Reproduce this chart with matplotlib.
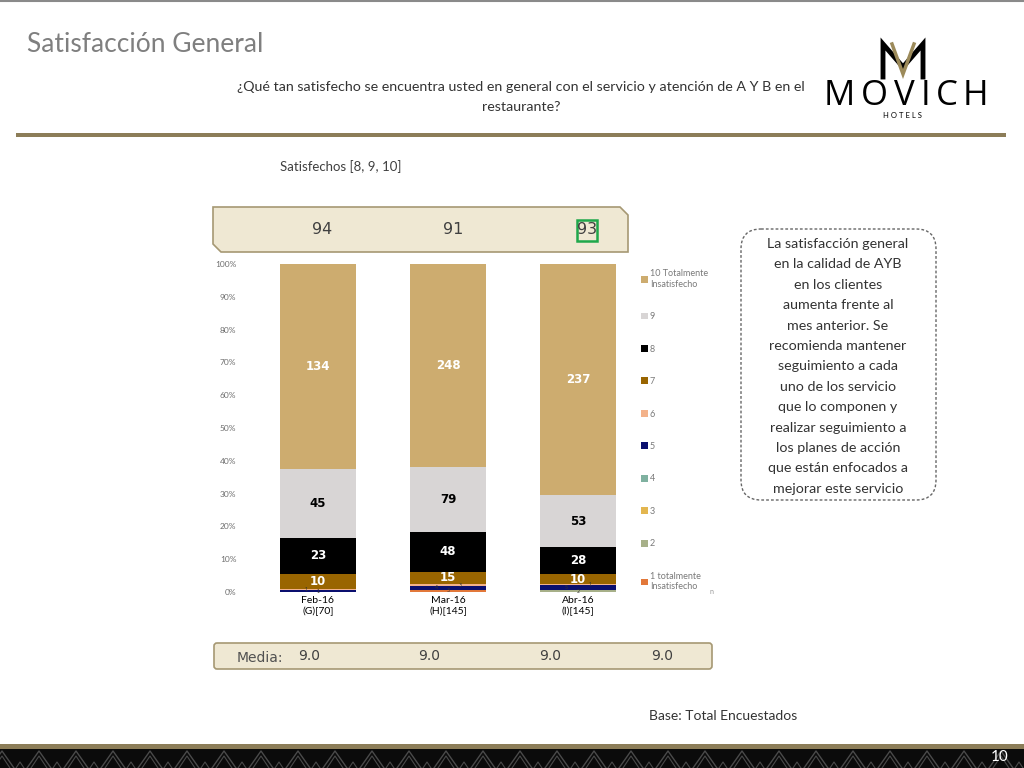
import matplotlib.pyplot as plt
import matplotlib.patches as mpatches
import numpy as np

# data
months = ['Feb-16\n(G)[70]', 'Mar-16\n(H)[145]', 'Abr-16\n(I)[145]']
levels = ['1 totalmente\nInsatisfecho', '2', '3', '4', '5', '6', '7', '8', '9',
          '10 Totalmente\nInsatisfecho']
counts = {
    '1': [0, 3, 0],
    '2': [0, 0, 2],
    '3': [0, 0, 0],
    '4': [0, 0, 0],
    '5': [1, 4, 5],
    '6': [1, 3, 1],
    '7': [10, 15, 10],
    '8': [23, 48, 28],
    '9': [45, 79, 53],
    '10': [134, 248, 237],
}
satisfied = [94, 91, 93]
media = [9.0, 9.0, 9.0, 9.0]

colors = {
    '1': '#E2783A', '2': '#A7B089', '3': '#E3B64F', '4': '#7FB1A0',
    '5': '#0A0F6E', '6': '#F3B28A', '7': '#996500', '8': '#000000',
    '9': '#D8D5D5', '10': '#CDAC6F',
}
keys = ['1', '2', '3', '4', '5', '6', '7', '8', '9', '10']

plt.rcParams['font.family'] = ['Lato', 'DejaVu Sans']

fig = plt.figure(figsize=(10.24, 7.68), dpi=100)

# overlay axes in pixel coordinates for the slide decorations
bg = fig.add_axes([0, 0, 1, 1])
bg.set_xlim(0, 1024)
bg.set_ylim(768, 0)
bg.axis('off')

gold = '#8C7D58'
bg.plot([0, 1024], [1, 1], color='#8A8A8A', lw=1.5)
bg.add_patch(mpatches.Rectangle((16, 133), 990, 4, color=gold, lw=0))
bg.text(27, 44, 'Satisfacción General', fontsize=19, color='#7F7F7F',
        va='center', ha='left')
bg.text(521, 87, '¿Qué tan satisfecho se encuentra usted en general con el servicio y atención de A Y B en el',
        fontsize=10.3, color='#333333', ha='center', va='center')
bg.text(521, 107, 'restaurante?', fontsize=10.3, color='#333333', ha='center', va='center')

# logo
bg.plot([883, 883, 903, 923, 923], [77, 44, 67, 44, 77], color='black', lw=3.5,
        solid_joinstyle='miter')
bg.plot([892, 903, 914], [44, 74, 44], color='#9C8A5A', lw=2.5, solid_joinstyle='miter')
for ch, xp in zip('MOVICH', [839, 874, 904, 925, 947, 975]):
    bg.text(xp, 96, ch, fontsize=25, color='black', ha='center', va='center',
            family=['Open Sans', 'DejaVu Sans'], fontweight='medium')
bg.text(902, 115, 'H O T E L S', fontsize=5.5, color='black', ha='center', va='center')

bg.text(280, 167, 'Satisfechos [8, 9, 10]', fontsize=9.5, color='#404040', va='center')

# banner with the satisfied share
box_fill = '#EFE8D3'
box_edge = '#A69873'
banner = mpatches.Polygon([(213, 207), (620, 207), (628, 215), (628, 252), (221, 252), (213, 244)],
                          closed=True, facecolor=box_fill, edgecolor=box_edge, lw=1.2)
bg.add_patch(banner)
for xp, v in zip([322, 453, 587], satisfied):
    bg.text(xp, 230, str(v), fontsize=11.5, color='#404040', ha='center', va='center',
            family=['DejaVu Sans'])
bg.add_patch(mpatches.Rectangle((577, 220), 20, 21, fill=False, edgecolor='#1FA84B', lw=1.8))

# media box
bg.add_patch(mpatches.FancyBboxPatch((214, 643), 498, 26, boxstyle='round,pad=0,rounding_size=3',
                                     facecolor=box_fill, edgecolor=box_edge, lw=1.2))
bg.text(237, 658, 'Media:', fontsize=10, color='#505050', va='center', family=['DejaVu Sans'])
for xp, v in zip([309, 429, 550, 662], media):
    bg.text(xp, 656, f'{v:.1f}', fontsize=10, color='#404040', ha='center', va='center',
            family=['DejaVu Sans'])

# comment box
bg.add_patch(mpatches.FancyBboxPatch((741, 229), 195, 271, boxstyle='round,pad=0,rounding_size=20',
                                     facecolor='white', edgecolor='#666666', lw=1, ls=(0, (2, 1.5))))
comment = ['La satisfacción general', 'en la calidad de AYB', 'en los clientes',
           'aumenta frente al', 'mes anterior. Se', 'recomienda mantener',
           'seguimiento a cada', 'uno de los servicio', 'que lo componen y',
           'realizar seguimiento a', 'los planes de acción', 'que están enfocados a',
           'mejorar este servicio']
for i, line in enumerate(comment):
    bg.text(838, 244 + i * 20.4, line, fontsize=10.3, color='#333333', ha='center', va='center')

bg.text(649, 716, 'Base: Total Encuestados', fontsize=10, color='#333333', va='center')

# footer band
bg.add_patch(mpatches.Rectangle((0, 744), 1024, 5, color=gold, lw=0))
bg.add_patch(mpatches.Rectangle((0, 749), 1024, 19, color='#0B0B0B', lw=0))
for x0 in np.arange(-10, 1030, 37):
    bg.plot([x0, x0 + 12, x0 + 24], [768, 751, 768], color='#4A4A4A', lw=1)
    bg.plot([x0 + 4, x0 + 12, x0 + 20], [768, 756, 768], color='#4A4A4A', lw=0.8)
    bg.plot([x0 + 26, x0 + 30, x0 + 34], [768, 762, 768], color='#4A4A4A', lw=0.8)
bg.text(1000, 757, '10', fontsize=11, color='white', ha='center', va='center')
bg.text(711, 592, 'n', fontsize=5, color='#999999', ha='center', va='center')

# stacked bar chart
ax = fig.add_axes([253 / 1024, 1 - 592 / 768, 390 / 1024, 328 / 768])
x = np.arange(len(months))
totals = np.sum([counts[k] for k in keys], axis=0)
bottom = np.zeros(len(months))
handles = []
n_small = np.zeros(len(months), dtype=int)
offsets = [0.0, -0.09, 0.09]
for k, lab in zip(keys, levels):
    vals = np.array(counts[k], dtype=float)
    pct = vals / totals * 100
    bars = ax.bar(x, pct, 0.58, bottom=bottom, color=colors[k], label=lab, lw=0)
    handles.append(bars)
    for i, (xi, v, p, b) in enumerate(zip(x, vals, pct, bottom)):
        if v == 0:
            continue
        if p > 2.5:
            tc = 'black' if k == '9' else 'white'
            ax.text(xi, b + p / 2, str(int(v)), ha='center', va='center', fontsize=8.5,
                    fontweight='bold', color=tc, family=['DejaVu Sans'])
        else:
            # tiny segments: stagger the labels so they stay readable
            dx = offsets[n_small[i] % 3]
            n_small[i] += 1
            ax.text(xi + dx, b + p / 2, str(int(v)), ha='center', va='center', fontsize=3.5,
                    color='#333333', family=['DejaVu Sans'])
    bottom += pct

ax.set_xlim(-0.5, 2.5)
ax.set_ylim(0, 100)
ax.set_yticks(np.arange(0, 101, 10))
ax.set_yticklabels([f'{t}%' for t in range(0, 101, 10)], fontsize=6, color='#6E6E6E')
ax.tick_params(axis='y', length=0, pad=12)
ax.set_xticks(x)
ax.set_xticklabels(months, fontsize=7.5, color='black')
ax.tick_params(axis='x', length=0, pad=3)
for s in ax.spines.values():
    s.set_visible(False)

leg = ax.legend(handles[::-1], levels[::-1], loc='upper left', bbox_to_anchor=(0.985, 0.995),
                frameon=False, fontsize=6.5, labelspacing=2.6, handlelength=0.8,
                handleheight=0.8, handletextpad=0.2, borderaxespad=0)
for t in leg.get_texts():
    t.set_color('#7A7A7A')

fig.savefig('out.png', dpi=100)
